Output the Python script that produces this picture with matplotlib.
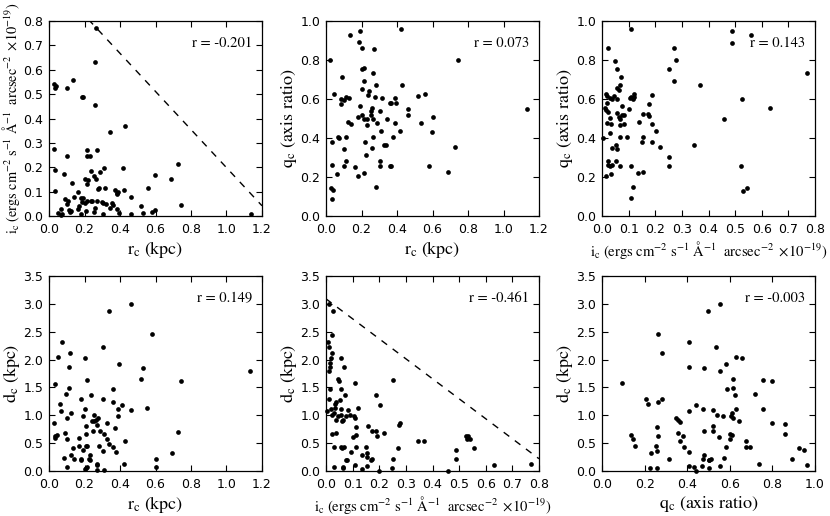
import matplotlib
matplotlib.use("Agg")
import matplotlib.pyplot as plt

# panel a: r_c vs i_c
rc_a = [0.267, 0.261, 0.259, 0.028, 0.036, 0.042, 0.103, 0.137, 0.186, 0.193, 0.428, 0.342, 1.136,
        0.027, 0.034, 0.032, 0.103, 0.087, 0.127, 0.214, 0.273, 0.214, 0.229, 0.235, 0.254, 0.31, 0.29,
        0.267, 0.205, 0.218, 0.214, 0.415, 0.278, 0.284, 0.318, 0.372, 0.385, 0.382, 0.389, 0.42, 0.464,
        0.556, 0.597, 0.689, 0.725, 0.742, 0.163, 0.091, 0.106, 0.099, 0.140, 0.182, 0.194, 0.186, 0.205,
        0.216, 0.234, 0.24, 0.27, 0.297, 0.305, 0.323, 0.353, 0.359, 0.344, 0.26, 0.164, 0.113, 0.122,
        0.116, 0.068, 0.049, 0.075, 0.068, 0.182, 0.209, 0.252, 0.304, 0.382, 0.393, 0.52, 0.531, 0.58,
        0.597, 0.464, 0.168]
ic_a = [0.771, 0.631, 0.457, 0.543, 0.525, 0.532, 0.526, 0.560, 0.487, 0.487, 0.369, 0.343, 0.010,
        0.273, 0.187, 0.104, 0.246, 0.173, 0.137, 0.269, 0.269, 0.248, 0.248, 0.184, 0.165, 0.195, 0.18,
        0.15, 0.153, 0.149, 0.131, 0.198, 0.109, 0.113, 0.116, 0.108, 0.093, 0.089, 0.1, 0.106, 0.076,
        0.116, 0.168, 0.15, 0.214, 0.045, 0.1, 0.068, 0.061, 0.049, 0.078, 0.073, 0.073, 0.059, 0.052,
        0.06, 0.06, 0.06, 0.061, 0.059, 0.052, 0.048, 0.052, 0.044, 0.034, 0.034, 0.028, 0.025, 0.02,
        0.016, 0.03, 0.013, 0.008, 0.004, 0.009, 0.019, 0.016, 0.009, 0.03, 0.012, 0.041, 0.014, 0.017,
        0.025, 0.009, 0.041]

# panel b: r_c vs q_c
rc_b = [0.425, 0.194, 0.135, 0.186, 0.205, 0.273, 0.022, 0.201, 0.214, 0.265, 0.092, 0.214, 0.427,
        0.28, 0.203, 0.241, 0.237, 0.047, 0.274, 0.314, 0.086, 0.101, 0.111, 0.128, 0.084, 0.389, 0.397,
        0.363, 0.369, 0.519, 0.555, 0.463, 0.463, 0.6, 0.192, 0.18, 0.201, 0.212, 0.261, 0.256, 0.252,
        0.23, 0.263, 0.233, 0.288, 0.305, 0.344, 0.124, 0.139, 0.387, 0.534, 0.415, 0.312, 0.38, 0.265,
        0.22, 0.596, 0.066, 0.073, 0.115, 0.032, 0.099, 0.327, 0.34, 0.259, 0.227, 0.115, 0.101, 0.034,
        0.305, 0.306, 0.165, 0.359, 0.369, 0.579, 0.686, 0.062, 0.18, 0.212, 0.28, 0.028, 0.039, 0.032,
        1.134, 0.743, 0.724]
qc_b = [0.961, 0.949, 0.926, 0.891, 0.86, 0.857, 0.799, 0.754, 0.758, 0.735, 0.713, 0.693, 0.674,
        0.671, 0.652, 0.641, 0.621, 0.626, 0.611, 0.604, 0.601, 0.597, 0.611, 0.604, 0.574, 0.604, 0.577,
        0.582, 0.577, 0.614, 0.626, 0.549, 0.517, 0.51, 0.563, 0.509, 0.519, 0.5, 0.553, 0.538, 0.519,
        0.5, 0.495, 0.468, 0.475, 0.536, 0.5, 0.48, 0.47, 0.475, 0.476, 0.437, 0.437, 0.405, 0.405,
        0.38, 0.429, 0.405, 0.401, 0.405, 0.379, 0.342, 0.362, 0.363, 0.351, 0.312, 0.28, 0.254, 0.261,
        0.28, 0.254, 0.25, 0.256, 0.254, 0.258, 0.227, 0.213, 0.203, 0.22, 0.148, 0.143, 0.131, 0.088,
        0.551, 0.799, 0.355]

# panel c: i_c vs q_c
ic_c = [0.109, 0.021, 0.049, 0.056, 0.071, 0.056, 0.064, 0.069, 0.016, 0.019, 0.031, 0.039, 0.044,
        0.017, 0.011, 0.016, 0.021, 0.031, 0.019, 0.034, 0.056, 0.055, 0.064, 0.068, 0.074, 0.081, 0.075,
        0.066, 0.081, 0.101, 0.105, 0.11, 0.119, 0.12, 0.118, 0.005, 0.031, 0.039, 0.054, 0.056, 0.066,
        0.094, 0.139, 0.155, 0.172, 0.175, 0.187, 0.178, 0.187, 0.202, 0.154, 0.152, 0.189, 0.217, 0.346,
        0.021, 0.024, 0.031, 0.039, 0.054, 0.066, 0.015, 0.034, 0.109, 0.136, 0.154, 0.115, 0.108, 0.25,
        0.272, 0.277, 0.272, 0.25, 0.25, 0.368, 0.489, 0.49, 0.56, 0.771, 0.457, 0.525, 0.631, 0.522,
        0.529, 0.544]
qc_c = [0.961, 0.862, 0.797, 0.756, 0.712, 0.654, 0.646, 0.671, 0.626, 0.616, 0.604, 0.602, 0.614,
        0.579, 0.552, 0.542, 0.534, 0.501, 0.477, 0.473, 0.602, 0.53, 0.509, 0.5, 0.517, 0.517, 0.564,
        0.466, 0.472, 0.548, 0.604, 0.611, 0.611, 0.626, 0.602, 0.401, 0.428, 0.35, 0.363, 0.343, 0.405,
        0.405, 0.48, 0.521, 0.521, 0.514, 0.62, 0.574, 0.474, 0.437, 0.405, 0.381, 0.377, 0.355, 0.363,
        0.28, 0.263, 0.255, 0.26, 0.28, 0.255, 0.204, 0.213, 0.256, 0.22, 0.227, 0.149, 0.091, 0.756,
        0.859, 0.801, 0.694, 0.304, 0.254, 0.674, 0.949, 0.889, 0.928, 0.735, 0.497, 0.599, 0.553, 0.258,
        0.128, 0.142]

# panel d: r_c vs d_c
rc_d = [0.46, 0.34, 0.58, 1.134, 0.742, 0.725, 0.075, 0.304, 0.049, 0.117, 0.203, 0.115, 0.397,
        0.532, 0.52, 0.214, 0.032, 0.113, 0.361, 0.094, 0.235, 0.182, 0.303, 0.064, 0.07, 0.126, 0.359,
        0.413, 0.389, 0.464, 0.554, 0.203, 0.026, 0.101, 0.194, 0.254, 0.276, 0.265, 0.253, 0.242, 0.327,
        0.389, 0.207, 0.272, 0.37, 0.25, 0.29, 0.31, 0.088, 0.036, 0.032, 0.043, 0.104, 0.167, 0.209,
        0.325, 0.427, 0.338, 0.363, 0.378, 0.306, 0.28, 0.21, 0.215, 0.167, 0.134, 0.194, 0.126, 0.229,
        0.085, 0.141, 0.182, 0.178, 0.226, 0.23, 0.6, 0.691, 0.27, 0.268, 0.212, 0.207, 0.204, 0.101,
        0.423, 0.6, 0.31, 0.27]
dc_d = [3.0, 2.87, 2.46, 1.8, 1.62, 0.7, 2.31, 2.23, 2.04, 2.11, 2.02, 1.87, 1.92,
        1.85, 1.66, 1.63, 1.57, 1.49, 1.47, 1.38, 1.36, 1.29, 1.29, 1.2, 1.08, 1.05, 1.24,
        1.18, 1.11, 1.1, 1.13, 1.11, 0.87, 0.96, 0.98, 1.0, 0.95, 0.91, 0.9, 0.9, 0.87,
        0.98, 0.81, 0.83, 0.78, 0.72, 0.72, 0.66, 0.68, 0.63, 0.6, 0.65, 0.57, 0.6, 0.67,
        0.58, 0.54, 0.48, 0.43, 0.35, 0.36, 0.44, 0.44, 0.44, 0.44, 0.41, 0.38, 0.29, 0.29,
        0.23, 0.21, 0.21, 0.19, 0.21, 0.2, 0.21, 0.33, 0.13, 0.1, 0.08, 0.06, 0.04, 0.066,
        0.12, 0.08, 0.01, 0.01]

# panel e: i_c vs d_c
ic_e = [0.011, 0.027, 0.021, 0.007, 0.011, 0.021, 0.014, 0.016, 0.011, 0.018, 0.055, 0.066, 0.044,
        0.049, 0.109, 0.251, 0.016, 0.056, 0.071, 0.187, 0.203, 0.011, 0.054, 0.036, 0.034, 0.005, 0.019,
        0.034, 0.021, 0.031, 0.056, 0.081, 0.119, 0.045, 0.056, 0.036, 0.059, 0.064, 0.074, 0.091, 0.106,
        0.109, 0.111, 0.101, 0.114, 0.157, 0.172, 0.187, 0.191, 0.218, 0.273, 0.277, 0.036, 0.022, 0.03,
        0.055, 0.061, 0.066, 0.079, 0.074, 0.094, 0.114, 0.149, 0.153, 0.137, 0.174, 0.17, 0.154, 0.272,
        0.25, 0.109, 0.134, 0.154, 0.064, 0.064, 0.03, 0.248, 0.199, 0.345, 0.369, 0.49, 0.49, 0.524,
        0.528, 0.532, 0.541, 0.556, 0.63, 0.771, 0.458]
dc_e = [3.0, 2.87, 2.45, 2.31, 2.23, 2.11, 1.93, 1.87, 1.79, 2.02, 2.02, 1.87, 1.66,
        1.62, 1.58, 1.63, 1.48, 1.47, 1.37, 1.37, 1.19, 1.29, 1.27, 1.23, 1.2, 1.08, 1.11,
        1.13, 1.0, 1.05, 1.11, 1.09, 1.13, 0.98, 1.0, 0.91, 0.89, 0.91, 0.98, 1.0, 0.98,
        0.95, 0.79, 0.61, 0.65, 0.81, 0.72, 0.72, 0.62, 0.69, 0.83, 0.86, 0.68, 0.66, 0.43,
        0.43, 0.41, 0.43, 0.2, 0.19, 0.35, 0.43, 0.43, 0.33, 0.29, 0.22, 0.2, 0.26, 0.42,
        0.21, 0.11, 0.04, 0.09, 0.08, 0.05, 0.07, 0.05, 0.0, 0.54, 0.54, 0.37, 0.22, 0.62,
        0.58, 0.63, 0.58, 0.41, 0.1, 0.13, 0.0]

# panel f: q_c vs d_c
qc_f = [0.407, 0.537, 0.281, 0.63, 0.655, 0.41, 0.479, 0.581, 0.553, 0.616, 0.758, 0.799, 0.586,
        0.613, 0.625, 0.718, 0.207, 0.218, 0.262, 0.282, 0.442, 0.41, 0.476, 0.522, 0.542, 0.566, 0.608,
        0.605, 0.613, 0.63, 0.644, 0.758, 0.8, 0.346, 0.355, 0.365, 0.478, 0.522, 0.522, 0.603, 0.608,
        0.6, 0.55, 0.358, 0.368, 0.382, 0.385, 0.409, 0.258, 0.263, 0.252, 0.257, 0.232, 0.676, 0.676,
        0.696, 0.584, 0.575, 0.315, 0.481, 0.473, 0.5, 0.512, 0.504, 0.738, 0.41, 0.432, 0.468, 0.503,
        0.556, 0.224, 0.258, 0.443, 0.498, 0.552, 0.262, 0.094, 0.135, 0.146, 0.154, 0.858, 0.86, 0.89,
        0.926, 0.947, 0.962]
dc_f = [2.31, 2.23, 2.11, 2.04, 2.02, 1.87, 1.85, 1.92, 1.79, 1.66, 1.63, 1.62, 1.47,
        1.49, 1.36, 1.38, 1.29, 1.2, 1.24, 1.29, 1.19, 1.08, 1.12, 1.1, 1.0, 0.99, 1.05,
        0.99, 0.96, 1.12, 0.9, 1.11, 0.87, 0.96, 0.92, 0.88, 0.72, 0.8, 0.72, 0.67, 0.65,
        0.57, 0.61, 0.69, 0.54, 0.62, 0.43, 0.35, 0.79, 0.62, 0.44, 0.36, 0.32, 0.54, 0.43,
        0.43, 0.43, 0.23, 0.22, 0.28, 0.21, 0.2, 0.21, 0.19, 0.13, 0.09, 0.07, 0.09, 0.05,
        0.09, 0.05, 0.05, 0.0, 2.87, 2.99, 2.46, 1.58, 0.64, 0.58, 0.45, 0.84, 0.67, 0.22,
        0.41, 0.38, 0.11]

r_values = [-0.201, 0.073, 0.143, 0.149, -0.461, -0.003]

# dashed boundary lines (panel a and e)
line_a_x = [0.0, 1.2]
line_a_y = [0.98, 0.042]
line_e_x = [0.0, 0.8]
line_e_y = [3.09, 0.22]

plt.rcParams.update({
    "mathtext.fontset": "stix",
    "font.size": 9,
    "xtick.direction": "in",
    "ytick.direction": "in",
    "xtick.top": True,
    "ytick.right": True,
    "xtick.major.size": 4.5,
    "ytick.major.size": 4.5,
    "xtick.major.pad": 5,
    "ytick.major.pad": 4,
    "axes.linewidth": 0.9,
})

lab_r = r"$\mathrm{r_c\ (kpc)}$"
lab_i = r"$\mathrm{i_c\ (ergs\ cm^{-2}\ s^{-1}\ \AA^{-1}\ \ arcsec^{-2}\ \times\!10^{-19})}$"
lab_q = r"$\mathrm{q_c\ (axis\ ratio)}$"
lab_d = r"$\mathrm{d_c\ (kpc)}$"

fig = plt.figure(figsize=(8.3, 5.16), dpi=100)

lefts = [49 / 830, 326 / 830, 602 / 830]
bottoms = [1 - 216 / 516, 1 - 471 / 516]
w, h = 213 / 830, 195 / 516

panels = [
    (rc_a, ic_a, lab_r, lab_i, (0, 1.2, 0.2), (0, 0.8, 0.1)),
    (rc_b, qc_b, lab_r, lab_q, (0, 1.2, 0.2), (0, 1.0, 0.2)),
    (ic_c, qc_c, lab_i, lab_q, (0, 0.8, 0.1), (0, 1.0, 0.2)),
    (rc_d, dc_d, lab_r, lab_d, (0, 1.2, 0.2), (0, 3.5, 0.5)),
    (ic_e, dc_e, lab_i, lab_d, (0, 0.8, 0.1), (0, 3.5, 0.5)),
    (qc_f, dc_f, lab_q, lab_d, (0, 1.0, 0.2), (0, 3.5, 0.5)),
]

for k, (xs, ys, xl, yl, xr, yr) in enumerate(panels):
    ax = fig.add_axes([lefts[k % 3], bottoms[k // 3], w, h])
    ax.plot(xs, ys, "o", color="k", ms=3.4, mec="k", mew=0, clip_on=False, zorder=3)
    if k == 0:
        ax.plot(line_a_x, line_a_y, "k--", lw=1, dashes=(5, 5))
    if k == 4:
        ax.plot(line_e_x, line_e_y, "k--", lw=1, dashes=(5, 5))
    ax.set_xlim(xr[0], xr[1])
    ax.set_ylim(yr[0], yr[1])
    nx = int(round((xr[1] - xr[0]) / xr[2]))
    ny = int(round((yr[1] - yr[0]) / yr[2]))
    ax.set_xticks([xr[0] + i * xr[2] for i in range(nx + 1)])
    ax.set_yticks([yr[0] + i * yr[2] for i in range(ny + 1)])
    ax.xaxis.set_major_formatter(plt.FormatStrFormatter("%.1f"))
    ax.yaxis.set_major_formatter(plt.FormatStrFormatter("%.1f"))
    # the long intensity label is set smaller so it fits
    ax.set_xlabel(xl, fontsize=10.5 if xl == lab_i else 13, labelpad=2)
    ax.set_ylabel(yl, fontsize=10.3 if yl == lab_i else 13, labelpad=1)
    ax.text(0.955, 0.885, "r = %.3f" % r_values[k], transform=ax.transAxes,
            ha="right", va="center", fontsize=10.5, family="STIXGeneral")

fig.savefig("out.png", dpi=100)
